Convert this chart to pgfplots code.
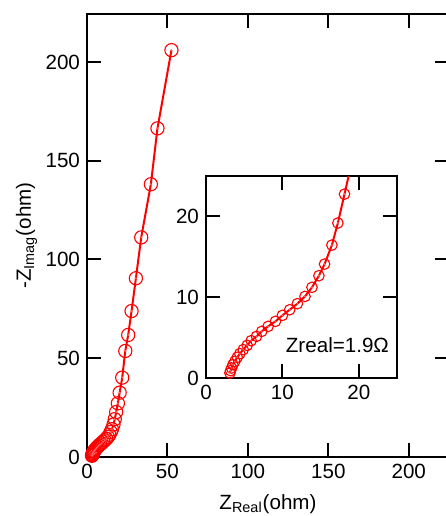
\documentclass[border=0pt]{standalone}
\usepackage{fontspec}
\setmainfont{Liberation Sans}
\usepackage{pgfplots}
\pgfplotsset{compat=1.18}
\usepackage{pgfplotstable}

\pgfplotstableread{
x y
52.5 206
43.8 166.4
39.7 138.1
33.7 111.2
30.4 90.5
27.7 73.9
25.6 61.8
23.8 53.7
21.9 40.2
20.3 32.6
19.2 27.2
18.13 22.76
17.26 19.18
16.48 16.45
15.52 14.10
14.78 12.66
13.87 11.22
12.96 10.10
11.96 9.20
10.96 8.45
10.00 7.75
9.09 7.01
8.13 6.39
7.30 5.77
6.61 5.15
5.91 4.62
5.39 4.04
4.87 3.51
4.43 3.01
4.09 2.56
3.78 2.06
3.52 1.65
3.35 1.24
3.22 0.91
3.13 0.62
}\datatable

\pgfplotsset{
  myaxis/.style={
    scale only axis,
    tick align=inside,
    major tick length=7pt,
    axis line style={line width=1pt},
    every tick/.style={black, line width=1pt},
    /pgf/number format/assume math mode=true,
    ticklabel style={font=\fontsize{10.3}{12}\selectfont},
    label style={font=\fontsize{10.3}{12}\selectfont},
  }
}

\begin{document}
\begin{tikzpicture}[font=\fontsize{10.3}{12}\selectfont]
\begin{axis}[myaxis,
  at={(0pt,0pt)}, anchor=south west,
  width=181pt, height=221.5pt,
  xmin=0, xmax=225, ymin=0, ymax=224.3,
  xtick={0,50,100,150,200}, ytick={0,50,100,150,200},
  clip=false,
  xlabel={Z\textsubscript{Real}(ohm)},
  ylabel={-Z\textsubscript{Imag}(ohm)},
  xlabel style={at={(axis description cs:0.5,-0.1174)}, anchor=base},
  ylabel style={at={(axis description cs:-0.1547,0.5)}, anchor=base},
]
\addplot[red, line width=1pt, mark=o, mark size=3.3pt,
  mark options={line width=0.55pt, solid, fill=white}] table {\datatable};
\addplot[red!60, only marks, mark=*, mark size=0.25pt] table {\datatable};
\end{axis}
\begin{axis}[myaxis,
  at={(59.5pt,39.5pt)}, anchor=south west,
  width=95.5pt, height=101pt,
  xmin=0, xmax=25, ymin=0, ymax=25,
  xtick={0,10,20}, ytick={0,10,20},
  clip marker paths=true,
]
\addplot[red, line width=1pt, mark=o, mark size=2.65pt,
  mark options={line width=0.55pt, solid, fill=white}] table {\datatable};
\addplot[red!60, only marks, mark=*, mark size=0.2pt] table {\datatable};
\node at (axis cs:17.2,4.1) {Zreal=1.9Ω};
\end{axis}
\pgfresetboundingbox
\path[use as bounding box] (-43.5pt,-29.5pt) rectangle (179.5pt,228.5pt);
\end{tikzpicture}
\end{document}
